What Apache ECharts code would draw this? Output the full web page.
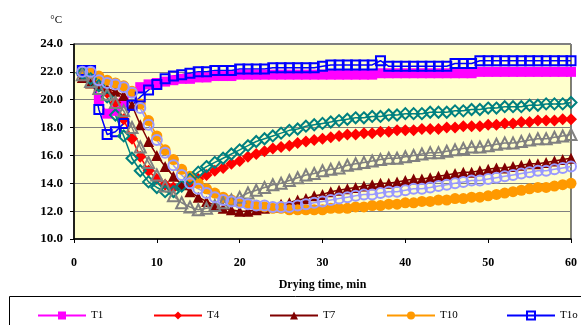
<!DOCTYPE html>
<html>
<head>
<meta charset="utf-8">
<script src="https://cdn.jsdelivr.net/npm/echarts@6/dist/echarts.min.js"></script>
<style>
  html, body { margin: 0; padding: 0; background: #fff; }
  #chart { width: 581px; height: 325px; }
</style>
</head>
<body>
<div id="chart"></div>
<script>
// drying time, min
const minutes = [1, 2, 3, 4, 5, 6, 7, 8, 9, 10, 11, 12, 13, 14, 15, 16, 17, 18, 19, 20,
  21, 22, 23, 24, 25, 26, 27, 28, 29, 30, 31, 32, 33, 34, 35, 36, 37, 38, 39, 40,
  41, 42, 43, 44, 45, 46, 47, 48, 49, 50, 51, 52, 53, 54, 55, 56, 57, 58, 59, 60]

const yTicks = [10, 12, 14, 16, 18, 20, 22, 24]
const xTicks = [0, 10, 20, 30, 40, 50, 60]

const t1 = [22.0, 21.9, 20.0, 19.0, 19.2, 19.8, 20.5, 20.9, 21.1, 21.2, 21.3, 21.4, 21.5, 21.5, 21.6, 21.6, 21.7, 21.7, 21.7, 21.8,
  21.8, 21.8, 21.8, 21.8, 21.8, 21.8, 21.8, 21.8, 21.8, 21.8, 21.8, 21.8, 21.8, 21.8, 21.8, 21.8, 21.9, 21.9, 21.9, 21.9,
  21.9, 21.9, 21.9, 21.9, 21.9, 21.9, 21.9, 21.9, 22.0, 22.0, 22.0, 22.0, 22.0, 22.0, 22.0, 22.0, 22.0, 22.0, 22.0, 22.0]
const t4 = [22.0, 21.6, 21.2, 20.5, 19.8, 18.6, 17.2, 15.9, 14.9, 14.3, 13.9, 13.7, 13.8, 14.0, 14.3, 14.6, 14.9, 15.1, 15.4, 15.6,
  15.9, 16.1, 16.3, 16.5, 16.6, 16.7, 16.9, 17.0, 17.1, 17.2, 17.3, 17.4, 17.5, 17.5, 17.6, 17.6, 17.7, 17.7, 17.8, 17.8,
  17.8, 17.9, 17.9, 17.9, 18.0, 18.0, 18.1, 18.1, 18.1, 18.2, 18.2, 18.3, 18.3, 18.4, 18.4, 18.5, 18.5, 18.5, 18.6, 18.6]
const t7 = [21.6, 21.2, 21.0, 20.8, 20.6, 20.3, 19.6, 18.2, 17.0, 16.0, 15.2, 14.5, 13.9, 13.4, 13.0, 12.7, 12.4, 12.2, 12.1, 12.0,
  12.0, 12.1, 12.2, 12.3, 12.5, 12.6, 12.8, 12.9, 13.1, 13.2, 13.4, 13.5, 13.6, 13.7, 13.8, 13.9, 14.0, 14.0, 14.1, 14.2,
  14.3, 14.3, 14.4, 14.5, 14.6, 14.7, 14.8, 14.8, 14.9, 15.0, 15.1, 15.1, 15.2, 15.3, 15.4, 15.4, 15.5, 15.6, 15.7, 15.8]
const t10 = [22.0, 21.9, 21.7, 21.4, 21.2, 21.0, 20.6, 19.7, 18.5, 17.4, 16.4, 15.7, 15.0, 14.5, 14.0, 13.6, 13.3, 13.0, 12.8, 12.6,
  12.5, 12.4, 12.3, 12.2, 12.2, 12.1, 12.1, 12.1, 12.1, 12.1, 12.2, 12.2, 12.2, 12.3, 12.3, 12.4, 12.4, 12.5, 12.5, 12.6,
  12.6, 12.7, 12.7, 12.8, 12.8, 12.9, 12.9, 13.0, 13.0, 13.1, 13.2, 13.3, 13.4, 13.5, 13.6, 13.7, 13.7, 13.8, 13.9, 14.0]
const t1o = [22.1, 22.1, 19.3, 17.5, 17.7, 18.3, 19.6, 20.2, 20.7, 21.1, 21.5, 21.7, 21.8, 21.9, 22.0, 22.0, 22.1, 22.1, 22.1, 22.2,
  22.2, 22.2, 22.2, 22.3, 22.3, 22.3, 22.3, 22.3, 22.3, 22.4, 22.5, 22.5, 22.5, 22.5, 22.5, 22.5, 22.8, 22.4, 22.4, 22.4,
  22.4, 22.4, 22.4, 22.4, 22.4, 22.6, 22.6, 22.6, 22.8, 22.8, 22.8, 22.8, 22.8, 22.8, 22.8, 22.8, 22.8, 22.8, 22.8, 22.8]
const t4o = [21.9, 21.5, 21.0, 20.2, 18.9, 17.4, 15.8, 14.9, 14.1, 13.7, 13.4, 13.4, 13.8, 14.3, 14.8, 15.2, 15.5, 15.8, 16.1, 16.4,
  16.7, 17.0, 17.2, 17.4, 17.6, 17.8, 17.9, 18.1, 18.2, 18.3, 18.4, 18.5, 18.6, 18.7, 18.7, 18.8, 18.8, 18.9, 18.9, 19.0,
  19.0, 19.0, 19.1, 19.1, 19.1, 19.2, 19.2, 19.3, 19.3, 19.4, 19.4, 19.5, 19.5, 19.5, 19.6, 19.6, 19.7, 19.7, 19.7, 19.8]
const t7o = [21.8, 21.3, 20.8, 20.4, 19.8, 19.2, 18.0, 16.6, 15.5, 14.6, 13.8, 13.1, 12.6, 12.3, 12.1, 12.2, 12.4, 12.6, 12.8, 13.0,
  13.3, 13.5, 13.7, 13.9, 14.0, 14.2, 14.4, 14.6, 14.7, 14.9, 15.0, 15.1, 15.3, 15.4, 15.5, 15.6, 15.7, 15.8, 15.8, 15.9,
  16.0, 16.1, 16.2, 16.2, 16.3, 16.4, 16.5, 16.6, 16.6, 16.7, 16.8, 16.9, 16.9, 17.0, 17.1, 17.2, 17.2, 17.3, 17.4, 17.5]
const t10o = [22.0, 22.0, 21.4, 21.2, 21.1, 20.9, 20.5, 19.4, 18.2, 17.1, 16.2, 15.3, 14.6, 14.0, 13.6, 13.3, 13.0, 12.8, 12.7, 12.6,
  12.5, 12.4, 12.4, 12.3, 12.3, 12.3, 12.4, 12.5, 12.6, 12.7, 12.8, 12.9, 13.0, 13.1, 13.2, 13.2, 13.3, 13.4, 13.4, 13.5,
  13.6, 13.6, 13.7, 13.8, 13.9, 14.0, 14.1, 14.2, 14.2, 14.3, 14.4, 14.5, 14.6, 14.7, 14.8, 14.9, 14.9, 15.0, 15.1, 15.2]

const legendNames = ['T1', 'T4', 'T7', 'T10', 'T1o']
const legendLeft = [37, 153, 269, 386, 506]

const serif = '"Liberation Serif", "DejaVu Serif", serif'
const PLOT_BG = '#FFFFCC'

// 拼成 [x, y] 点
const pts = (arr) => arr.map((v, i) => [minutes[i], v])

const mkSeries = (name, data, color, symbol, size, hollow) => ({
  name,
  type: 'line',
  data: pts(data),
  symbol,
  symbolSize: size,
  showSymbol: true,
  lineStyle: { color, width: 1.5 },
  itemStyle: hollow
    ? { color: 'rgba(255,255,204,0)', borderColor: color, borderWidth: 2 }
    : { color, borderColor: color, borderWidth: 0 },
  emphasis: { disabled: true },
  animation: false
})

const series = [
  mkSeries('T1', t1, '#FF00FF', 'rect', 10, false),
  mkSeries('T4', t4, '#FF0000', 'diamond', 12, false),
  mkSeries('T7', t7, '#800000', 'triangle', 11, false),
  mkSeries('T10', t10, '#FF9900', 'circle', 11, false),
  mkSeries('T1o', t1o, '#0000FF', 'rect', 9, true),
  mkSeries('T4o', t4o, '#008080', 'diamond', 11, true),
  mkSeries('T7o', t7o, '#808080', 'triangle', 11, true),
  mkSeries('T10o', t10o, '#9999FF', 'circle', 10, true)
]

const legends = legendNames.map((n, i) => ({
  data: [n],
  left: legendLeft[i],
  top: 310,
  padding: 0,
  itemWidth: 48,
  itemHeight: 10,
  itemGap: 4,
  selectedMode: false,
  textStyle: { fontFamily: serif, fontSize: 11, color: '#000' }
}))

const chart = echarts.init(document.getElementById('chart'), null, { renderer: 'canvas' })

chart.setOption({
  backgroundColor: '#fff',
  animation: false,
  grid: {
    left: 74, right: 10, top: 44, bottom: 86,
    show: true,
    backgroundColor: PLOT_BG,
    borderColor: '#000',
    borderWidth: 1
  },
  legend: legends,
  xAxis: {
    type: 'value',
    min: xTicks[0],
    max: xTicks[xTicks.length - 1],
    interval: 10,
    name: 'Drying time, min',
    nameLocation: 'middle',
    nameGap: 40,
    nameTextStyle: { fontFamily: serif, fontWeight: 'bold', fontSize: 12, color: '#000' },
    axisLine: { lineStyle: { color: '#000', width: 1.5 } },
    axisTick: { show: true, inside: false, length: 4, lineStyle: { color: '#000' } },
    axisLabel: { margin: 18, fontFamily: serif, fontWeight: 'bold', fontSize: 12, color: '#000' },
    splitLine: { show: false }
  },
  yAxis: {
    type: 'value',
    min: yTicks[0],
    max: yTicks[yTicks.length - 1],
    interval: 2,
    name: '°C',
    nameLocation: 'end',
    nameGap: 18,
    nameTextStyle: { fontFamily: serif, fontSize: 11, color: '#000', align: 'right', padding: [0, 12, 0, 0] },
    axisLine: { lineStyle: { color: '#000', width: 1.5 } },
    axisTick: { show: true, inside: false, length: 4, lineStyle: { color: '#000' } },
    axisLabel: {
      margin: 11,
      fontFamily: serif, fontWeight: 'bold', fontSize: 13, color: '#000',
      formatter: (v) => v.toFixed(1)
    },
    splitLine: { show: true, lineStyle: { color: '#808080', width: 1 } }
  },
  graphic: [{
    type: 'rect',
    shape: { x: 9.5, y: 296.5, width: 620, height: 60 },
    style: { fill: 'none', stroke: '#000', lineWidth: 1 },
    silent: true,
    z: -1
  }],
  series
})
</script>
</body>
</html>
